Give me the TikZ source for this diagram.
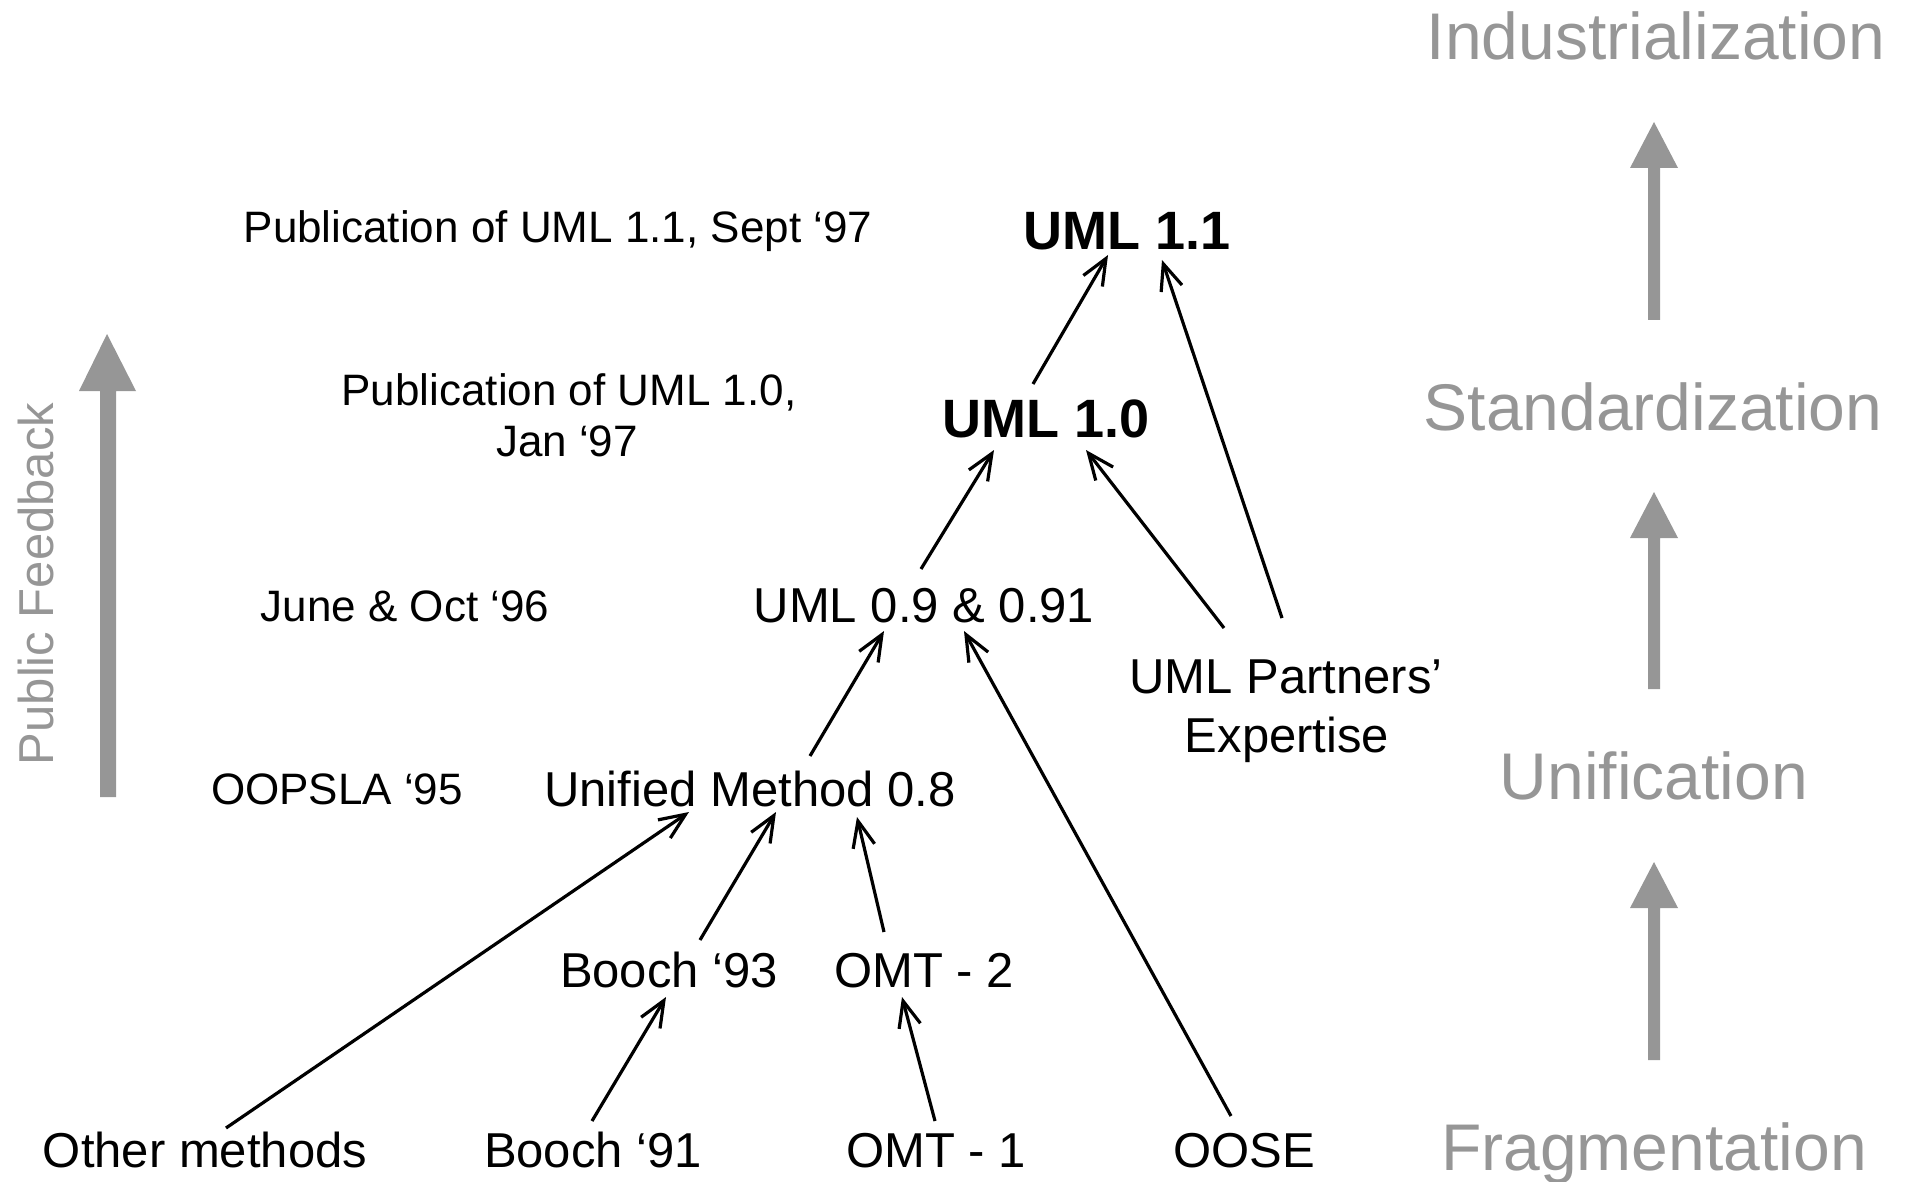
\documentclass[tikz,border=0pt]{standalone}
\usepackage{fontspec}
\setmainfont{Liberation Sans}
\usetikzlibrary{arrows.meta,calc}
\definecolor{phasegray}{RGB}{150,150,150}
\tikzset{
  lbl/.style={inner sep=0pt, anchor=base, font=\fontsize{44}{50}\selectfont},
  mainlbl/.style={inner sep=0pt, anchor=base, font=\fontsize{49}{56}\selectfont},
  boldlbl/.style={inner sep=0pt, anchor=base, font=\fontsize{54}{60}\selectfont\bfseries},
  phase/.style={inner sep=0pt, anchor=base, text=phasegray, font=\fontsize{66}{74}\selectfont},
  conn/.style={draw, line width=3.2pt, -{Straight Barb[length=26pt,width=22pt]}},
  blockarrow/.style={fill=phasegray, draw=none}
}
\begin{document}
\begin{tikzpicture}[x=1pt,y=-1pt]
\useasboundingbox (0,0) rectangle (1906,1182);
% labels
\node[lbl] (pub11) at (558,243) {Publication of UML 1.1, Sept ‘97};
\node[boldlbl] (uml11) at (1127,250) {UML 1.1};
\node[lbl] (pub10a) at (569,405) {Publication of UML 1.0,};
\node[lbl] (pub10b) at (567,456) {Jan ‘97};
\node[boldlbl] (uml10) at (1046,437) {UML 1.0};
\node[lbl] (jun96) at (405,621) {June \& Oct ‘96};
\node[mainlbl] (uml09) at (924,622) {UML 0.9 \& 0.91};
\node[mainlbl] (partA) at (1286,693) {UML Partners’};
\node[mainlbl] (partB) at (1287,752) {Expertise};
\node[lbl] (oopsla) at (337,804) {OOPSLA ‘95};
\node[mainlbl] (um08) at (750,806) {Unified Method 0.8};
\node[mainlbl] (booch93) at (669,987) {Booch ‘93};
\node[mainlbl] (omt2) at (924,987) {OMT - 2};
\node[mainlbl] (other) at (205,1167) {Other methods};
\node[mainlbl] (booch91) at (593,1167) {Booch ‘91};
\node[mainlbl] (omt1) at (936,1167) {OMT - 1};
\node[mainlbl] (oose) at (1244,1167) {OOSE};
% phases
\node[phase] (indus) at (1656,60) {Industrialization};
\node[phase] (stand) at (1653,430) {Standardization};
\node[phase] (unif) at (1654,799) {Unification};
\node[phase] (frag) at (1654,1170) {Fragmentation};
\node[inner sep=0pt, anchor=base, rotate=90, text=phasegray, font=\fontsize{49}{56}\selectfont] (pubfb) at (53,584) {Public Feedback};
% gray block arrows
\fill[blockarrow] (100,797) -- (100,391) -- (79,391) -- (107,334) -- (136,391) -- (116,391) -- (116,797) -- cycle;
\fill[blockarrow] (1648,320) -- (1648,168) -- (1630,168) -- (1654,122) -- (1678,168) -- (1660,168) -- (1660,320) -- cycle;
\fill[blockarrow] (1648,689) -- (1648,538) -- (1630,538) -- (1654,492) -- (1678,538) -- (1660,538) -- (1660,689) -- cycle;
\fill[blockarrow] (1648,1060) -- (1648,908) -- (1630,908) -- (1654,862) -- (1678,908) -- (1660,908) -- (1660,1060) -- cycle;
% connectors
\draw[conn] ($(uml10.base)+(-13,-53)$) -- ($(uml11.base)+(-19,5)$);
\draw[conn] ($(partA.base)+(-4,-75)$) -- ($(uml11.base)+(35,10)$);
\draw[conn] ($(uml09.base)+(-3,-53)$) -- ($(uml10.base)+(-52,13)$);
\draw[conn] ($(partA.base)+(-62,-65)$) -- ($(uml10.base)+(40,13)$);
\draw[conn] ($(um08.base)+(60,-50)$) -- ($(uml09.base)+(-40,9)$);
\draw[conn] ($(oose.base)+(-13,-51)$) -- ($(uml09.base)+(40,9)$);
\draw[conn] ($(other.base)+(21,-39)$) -- ($(um08.base)+(-61,6)$);
\draw[conn] ($(booch93.base)+(31,-47)$) -- ($(um08.base)+(26,6)$);
\draw[conn] ($(omt2.base)+(-40,-55)$) -- ($(um08.base)+(107,11)$);
\draw[conn] ($(booch91.base)+(-1,-46)$) -- ($(booch93.base)+(-3,10)$);
\draw[conn] ($(omt1.base)+(-1,-46)$) -- ($(omt2.base)+(-22,10)$);
\end{tikzpicture}
\end{document}
